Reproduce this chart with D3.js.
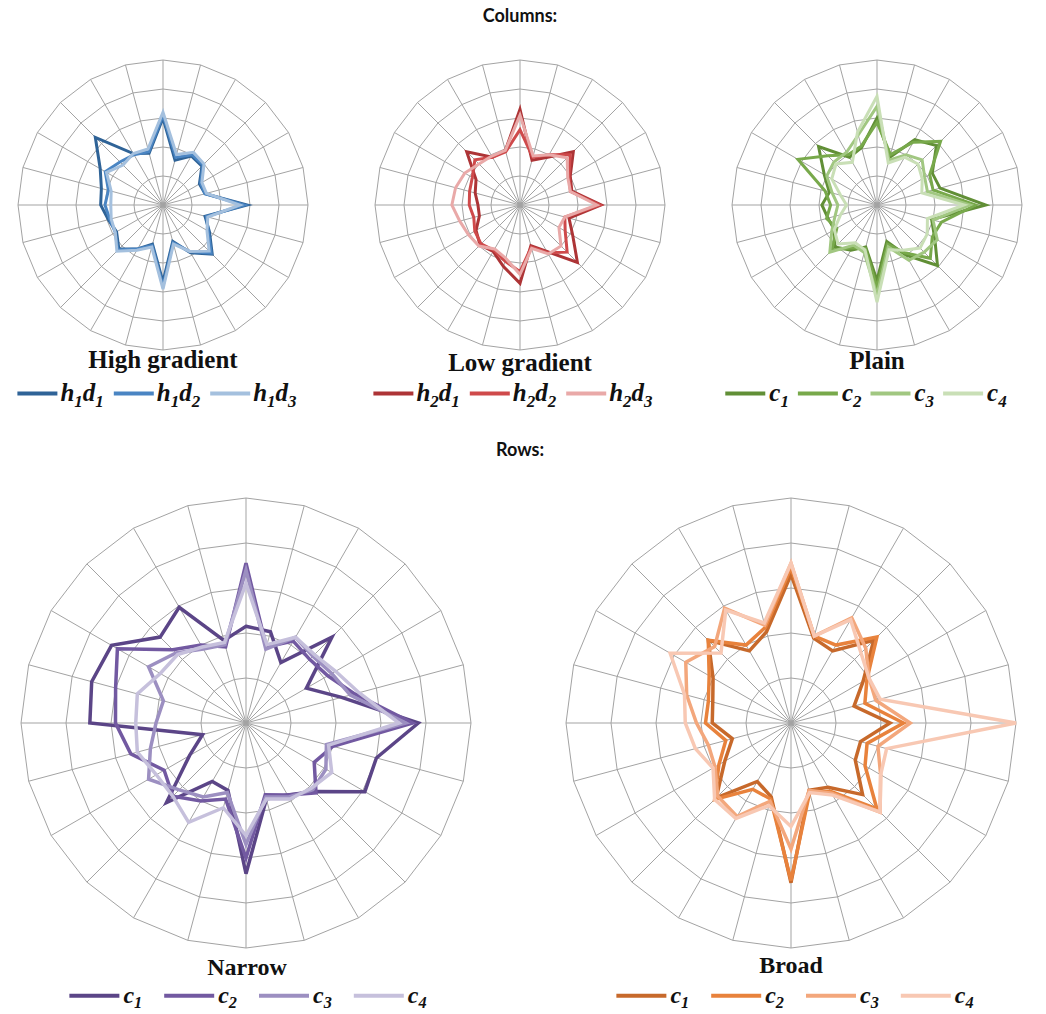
<!DOCTYPE html>
<html>
<head>
<meta charset="utf-8">
<script src="https://cdn.jsdelivr.net/npm/d3@7"></script>
<style>
  html, body { margin: 0; padding: 0; background: #fff; }
  svg { display: block; }
</style>
</head>
<body>
<svg id="chart" width="1046" height="1014"></svg>
<script>
// ---------------- DATA ----------------
// 24 radial categories (every 15°, clockwise from the top)
const categories = ["0°","15°","30°","45°","60°","75°","90°","105°","120°","135°","150°","165°",
                    "180°","195°","210°","225°","240°","255°","270°","285°","300°","315°","330°","345°"];
const ringTicks = [1, 2, 3, 4, 5];

// Columns: High gradient
const highH1D1 = [3.0, 1.6, 1.95, 1.9, 1.45, 1.5, 2.9, 1.5, 1.85, 2.4, 1.9, 1.3, 2.65, 1.4, 1.75, 2.15, 1.85, 1.95, 2.15, 2.2, 2.5, 3.3, 2.05, 1.85];
const highH1D2 = [3.1, 1.7, 2.0, 1.95, 1.5, 1.5, 2.8, 1.55, 1.8, 2.35, 1.85, 1.35, 2.8, 1.45, 1.75, 2.2, 1.9, 1.9, 2.0, 1.95, 2.3, 2.1, 2.0, 1.9];
const highH1D3 = [3.2, 1.8, 2.1, 2.0, 1.55, 1.55, 2.65, 1.6, 1.75, 2.25, 1.85, 1.4, 2.9, 1.5, 1.8, 2.25, 1.9, 1.85, 1.8, 1.85, 2.25, 1.95, 2.05, 2.0];
// Columns: Low gradient
const lowH2D1 = [3.3, 1.6, 1.9, 2.6, 2.0, 1.85, 2.8, 1.75, 2.1, 2.8, 1.85, 1.45, 2.7, 2.2, 1.85, 1.95, 1.75, 1.45, 1.45, 1.6, 1.75, 2.6, 1.9, 1.95];
const lowH2D2 = [2.6, 1.7, 2.0, 2.45, 1.95, 1.8, 2.75, 1.6, 1.8, 2.3, 1.9, 1.5, 2.3, 2.0, 1.8, 1.9, 1.8, 1.65, 1.75, 1.8, 1.9, 2.2, 1.9, 1.9];
const lowH2D3 = [3.1, 1.75, 2.0, 2.3, 1.9, 1.8, 2.65, 1.6, 1.55, 2.0, 1.95, 1.55, 2.4, 1.9, 1.75, 2.0, 2.05, 2.15, 2.35, 2.3, 2.2, 2.0, 1.95, 1.95];
// Columns: Plain
const plainC1 = [3.0, 1.7, 2.6, 2.9, 2.2, 2.25, 3.75, 1.95, 2.3, 2.95, 2.0, 1.3, 2.6, 1.5, 1.8, 2.05, 1.7, 1.75, 1.9, 1.7, 2.1, 2.85, 1.9, 2.05];
const plainC2 = [2.85, 1.8, 2.5, 3.1, 2.1, 2.0, 3.4, 2.3, 2.2, 2.6, 1.9, 1.4, 2.85, 1.55, 1.7, 2.2, 1.6, 1.8, 1.6, 1.85, 3.15, 2.4, 2.0, 2.1];
const plainC3 = [3.4, 1.6, 2.0, 2.2, 1.9, 1.8, 3.2, 2.0, 2.4, 2.3, 2.2, 1.5, 3.1, 1.7, 1.6, 2.3, 1.8, 1.5, 1.35, 1.6, 2.0, 2.1, 2.1, 2.5];
const plainC4 = [3.75, 1.5, 1.9, 2.0, 1.8, 1.6, 3.0, 1.8, 2.0, 2.1, 1.8, 1.6, 3.35, 1.6, 1.5, 1.9, 1.7, 1.3, 1.05, 1.3, 1.8, 2.0, 1.7, 2.6];
// Rows: Narrow
const narrowC1 = [2.15, 2.1, 1.55, 2.7, 1.55, 2.2, 3.83, 3.0, 3.05, 2.15, 1.85, 1.75, 3.35, 1.55, 1.5, 2.5, 1.45, 1.0, 3.47, 3.55, 3.45, 2.7, 2.97, 1.9];
const narrowC2 = [3.55, 1.75, 2.1, 2.0, 2.1, 2.5, 3.7, 2.0, 1.75, 2.2, 1.85, 1.65, 3.0, 1.75, 2.0, 2.3, 2.1, 2.65, 2.9, 3.0, 3.3, 2.3, 2.0, 1.75];
const narrowC3 = [3.4, 1.7, 2.2, 2.1, 2.2, 2.4, 3.55, 1.85, 2.05, 2.1, 1.9, 1.7, 2.7, 1.6, 1.9, 2.1, 2.5, 2.2, 2.0, 1.9, 2.5, 2.2, 1.9, 1.8];
const narrowC4 = [3.1, 1.8, 2.2, 2.15, 2.3, 2.6, 3.4, 1.9, 2.2, 2.05, 1.95, 1.75, 2.5, 1.95, 2.55, 2.3, 2.3, 2.5, 2.45, 2.5, 2.2, 2.15, 1.95, 1.85];
// Rows: Broad
const broadC1 = [3.3, 1.95, 1.85, 2.6, 1.85, 1.45, 2.2, 1.6, 1.65, 2.25, 1.65, 1.55, 3.55, 1.7, 1.5, 2.35, 1.7, 1.35, 1.75, 1.8, 2.0, 2.6, 1.85, 2.1];
const broadC2 = [3.45, 2.0, 2.0, 2.7, 1.95, 1.7, 2.5, 1.75, 1.9, 2.7, 1.75, 1.6, 3.5, 1.75, 1.7, 2.4, 1.85, 1.5, 1.9, 1.9, 2.1, 2.6, 2.0, 2.2];
const broadC3 = [3.55, 2.0, 2.7, 2.35, 2.0, 1.95, 2.65, 2.0, 2.3, 2.8, 1.8, 1.55, 2.8, 1.8, 2.4, 2.3, 1.95, 1.9, 2.1, 2.4, 2.7, 2.4, 2.95, 2.25];
const broadC4 = [3.55, 2.0, 2.65, 2.2, 2.0, 2.05, 5.0, 2.2, 2.3, 2.8, 1.85, 1.6, 2.3, 1.9, 2.45, 2.4, 2.0, 2.2, 2.35, 2.45, 3.1, 2.2, 2.9, 2.3];

// legend labels: [main letter, subscript, main letter, subscript]
const highLabels  = [["h","1","d","1"],["h","1","d","2"],["h","1","d","3"]];
const lowLabels   = [["h","2","d","1"],["h","2","d","2"],["h","2","d","3"]];
const cLabels     = [["c","1"],["c","2"],["c","3"],["c","4"]];

const highColors   = ["#2f6397", "#4a85c3", "#a4c0de"];
const lowColors    = ["#ad3436", "#cf4a4b", "#e9a9a8"];
const plainColors  = ["#618f36", "#78a94b", "#a1c781", "#c9dfb6"];
const narrowColors = ["#5b4587", "#7259a1", "#9c8fc1", "#c6c0dc"];
const broadColors  = ["#c7692b", "#e8823c", "#f3a77c", "#f8c8b3"];

// ---------------- DRAW ----------------
const svg = d3.select("#chart");
const gridColor = "#a3a3a3";

function radar(cx, cy, R, series, colors, sw) {
  const g = svg.append("g").attr("transform", `translate(${cx},${cy})`);
  const rScale = d3.scaleLinear().domain([0, 5]).range([0, R]);
  const aScale = d3.scaleLinear().domain([0, categories.length]).range([0, 2 * Math.PI]);
  const ringLine = d3.lineRadial()
      .angle((d, i) => aScale(i))
      .radius(d => rScale(d))
      .curve(d3.curveLinearClosed);
  // rings
  g.selectAll("path.ring").data(ringTicks).join("path")
    .attr("class", "ring")
    .attr("d", t => ringLine(categories.map(() => t)))
    .attr("fill", "none").attr("stroke", gridColor).attr("stroke-width", 1);
  // spokes
  g.selectAll("line.spoke").data(categories).join("line")
    .attr("class", "spoke")
    .attr("x1", 0).attr("y1", 0)
    .attr("x2", (d, i) => rScale(5) * Math.sin(aScale(i)))
    .attr("y2", (d, i) => -rScale(5) * Math.cos(aScale(i)))
    .attr("stroke", gridColor).attr("stroke-width", 1);
  // series (lightest drawn last, on top)
  const line = d3.lineRadial()
      .angle((d, i) => aScale(i))
      .radius(d => rScale(d))
      .curve(d3.curveLinearClosed);
  g.selectAll("path.series").data(series).join("path")
    .attr("class", "series")
    .attr("d", d => line(d))
    .attr("fill", "none")
    .attr("stroke", (d, i) => colors[i])
    .attr("stroke-width", sw)
    .attr("stroke-linejoin", "miter");
}

function title(x, y, text, size) {
  svg.append("text").attr("x", x).attr("y", y)
    .attr("text-anchor", "middle")
    .attr("font-family", "'Liberation Serif', 'Times New Roman', serif")
    .attr("font-weight", "bold")
    .attr("font-size", size)
    .attr("fill", "#111")
    .text(text);
}

function legend(cx, y, labels, colors, opt) {
  const g = svg.append("g");
  const items = [];
  labels.forEach((lab, i) => {
    const it = g.append("g");
    it.append("line").attr("x1", 0).attr("x2", opt.lineLen)
      .attr("y1", -opt.fs * 0.3).attr("y2", -opt.fs * 0.3)
      .attr("stroke", colors[i]).attr("stroke-width", opt.lw);
    const t = it.append("text").attr("x", opt.lineLen + opt.pad).attr("y", 0)
      .attr("font-family", "'Liberation Serif', 'Times New Roman', serif")
      .attr("font-weight", "bold").attr("font-style", "italic")
      .attr("font-size", opt.fs).attr("fill", "#111");
    for (let k = 0; k < lab.length; k += 2) {
      t.append("tspan").attr("dy", k === 0 ? 0 : -opt.fs * 0.22).text(lab[k]);
      t.append("tspan").attr("dy", opt.fs * 0.22).attr("font-size", opt.fs * 0.68).text(lab[k + 1]);
    }
    const w = opt.lineLen + opt.pad + t.node().getComputedTextLength();
    items.push({ it, w });
  });
  const total = d3.sum(items, d => d.w) + opt.gap * (items.length - 1);
  let x = cx - total / 2;
  items.forEach(d => { d.it.attr("transform", `translate(${x},${y})`); x += d.w + opt.gap; });
}

function header(x, y, text) {
  svg.append("text").attr("x", x).attr("y", y).attr("text-anchor", "middle")
    .attr("font-family", "Lato, 'Open Sans', sans-serif").attr("font-weight", "bold")
    .attr("font-size", 18).attr("fill", "#111").text(text);
}

header(520, 22, "Columns:");
header(520, 456, "Rows:");

const topR = 145, topY = 205;
radar(163, topY, topR, [highH1D1, highH1D2, highH1D3], highColors, 3);
radar(520, topY, topR, [lowH2D1, lowH2D2, lowH2D3], lowColors, 3);
radar(877, topY, topR, [plainC1, plainC2, plainC3, plainC4], plainColors, 3);

const botR = 225, botY = 723;
radar(246, botY, botR, [narrowC1, narrowC2, narrowC3, narrowC4], narrowColors, 3.5);
radar(791, botY, botR, [broadC1, broadC2, broadC3, broadC4], broadColors, 3.5);

title(163, 368, "High gradient", 25);
title(520, 371, "Low gradient", 25);
title(877, 369, "Plain", 25);
title(247, 975, "Narrow", 24);
title(791, 973, "Broad", 24);

const topOpt = { fs: 25, lineLen: 40, pad: 3, gap: 10, lw: 4 };
legend(157, 401, highLabels, highColors, topOpt);
legend(513, 401, lowLabels, lowColors, topOpt);
legend(866, 401, cLabels, plainColors, { fs: 25, lineLen: 40, pad: 4, gap: 9, lw: 4 });
const botOpt = { fs: 24, lineLen: 50, pad: 4, gap: 22, lw: 4 };
legend(248, 1003, cLabels, narrowColors, botOpt);
legend(795, 1003, cLabels, broadColors, botOpt);
</script>
</body>
</html>
